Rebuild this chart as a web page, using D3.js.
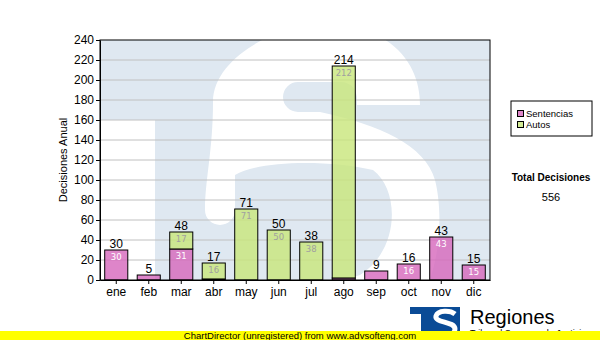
<!DOCTYPE html>
<html>
<head>
<meta charset="utf-8">
<script src="https://cdn.jsdelivr.net/npm/d3@7"></script>
<style>
  body { margin: 0; background: #fff; }
  svg { display: block; font-family: "Liberation Sans", Arial, sans-serif; }
</style>
</head>
<body>
<svg id="chart"></svg>
<script>
// data
const months = ["ene", "feb", "mar", "abr", "may", "jun", "jul", "ago", "sep", "oct", "nov", "dic"];
const sentencias = [30, 5, 31, 1, 0, 0, 0, 2, 9, 16, 43, 15];
const autos = [0, 0, 17, 16, 71, 50, 38, 212, 0, 0, 0, 0];
const seriesNames = ["Sentencias", "Autos"];
const yTicks = [0, 20, 40, 60, 80, 100, 120, 140, 160, 180, 200, 220, 240];

const colors = {Sentencias: "#d666bb", Autos: "#c8e67a"};
const innerText = {Sentencias: "#ffffff", Autos: "#a0a0a0"};

const width = 600, height = 340;
const margin = {top: 40, right: 110, bottom: 60, left: 100};
const plotW = width - margin.left - margin.right;
const plotH = height - margin.top - margin.bottom;

const svg = d3.select("svg#chart")
    .attr("width", width)
    .attr("height", height);

const table = months.map((m, i) => ({month: m, Sentencias: sentencias[i], Autos: autos[i]}));
const stacked = d3.stack().keys(seriesNames)(table);
const totals = table.map(d => d.Sentencias + d.Autos);

const x = d3.scaleBand()
    .domain(months)
    .range([0, plotW])
    .paddingInner(0.29)
    .paddingOuter(0.145);

const y = d3.scaleLinear()
    .domain([0, 240])
    .range([plotH, 0]);

const g = svg.append("g")
    .attr("transform", "translate(" + margin.left + "," + margin.top + ")");

// background logo watermark, clipped to the plot area
svg.append("clipPath").attr("id", "plotClip")
    .append("rect").attr("width", plotW).attr("height", plotH);

const wm = g.append("g").attr("clip-path", "url(#plotClip)");
wm.append("rect")
    .attr("width", plotW).attr("height", plotH)
    .attr("fill", "#dfe8f1");
wm.append("rect")
    .attr("x", 0).attr("y", 80).attr("width", 55).attr("height", plotH)
    .attr("fill", "#fff");
wm.append("path")
    .attr("fill", "#fff")
    .attr("d",
        "M257,65 L320,65 C320,30 300,-10 230,-18" +
        " C200,-22 113,10 113,62 C113,110 105,140 105,170" +
        " A15,15 0 0 0 135,170 L135,135" +
        " C160,120 230,120 273,130" +
        " C300,150 300,210 260,235 L180,260 L180,290 L300,290" +
        " C340,250 345,180 335,140 C325,105 280,85 220,72" +
        " L198,72 A15,15 0 0 1 198,42 L240,42 C252,42 257,50 257,60 Z");

// gridlines
g.append("g")
    .selectAll("line")
    .data(yTicks.filter(t => t > 0 && t < 240))
    .enter().append("line")
    .attr("x1", 0).attr("x2", plotW)
    .attr("y1", d => y(d)).attr("y2", d => y(d))
    .attr("stroke", "#c0c0c0")
    .attr("stroke-width", 1);

// stacked bars
const layers = g.selectAll("g.layer")
    .data(stacked)
    .enter().append("g")
    .attr("class", "layer");

layers.selectAll("rect")
    .data(s => s.map(v => ({key: s.key, v: v})))
    .enter().append("rect")
    .filter(d => d.v[1] - d.v[0] > 0)
    .attr("x", d => x(d.v.data.month))
    .attr("y", d => y(d.v[1]))
    .attr("width", x.bandwidth())
    .attr("height", d => y(d.v[0]) - y(d.v[1]))
    .attr("fill", d => colors[d.key])
    .attr("fill-opacity", 0.8)
    .attr("stroke", "#000")
    .attr("stroke-width", 1);

// value labels inside the segments
layers.selectAll("text")
    .data(s => s.map(v => ({key: s.key, v: v})).filter(d => d.v[1] - d.v[0] >= 10))
    .enter().append("text")
    .attr("x", d => x(d.v.data.month) + x.bandwidth() / 2)
    .attr("y", d => y(d.v[1]) + 10)
    .attr("text-anchor", "middle")
    .attr("font-family", "DejaVu Sans, sans-serif")
    .attr("font-size", "8.5px")
    .attr("fill", d => innerText[d.key])
    .text(d => d.v[1] - d.v[0]);

// totals above the bars
g.append("g")
    .selectAll("text")
    .data(months)
    .enter().append("text")
    .attr("x", (d) => x(d) + x.bandwidth() / 2)
    .attr("y", (d, i) => y(totals[i]) - 2)
    .attr("text-anchor", "middle")
    .attr("font-size", "12px")
    .attr("fill", "#000")
    .text((d, i) => totals[i]);

// plot frame
g.append("rect")
    .attr("width", plotW).attr("height", plotH)
    .attr("fill", "none")
    .attr("stroke", "#000");

// axes
const yAxis = g.append("g")
    .call(d3.axisLeft(y).tickValues(yTicks).tickSize(4).tickSizeOuter(0).tickPadding(2));
const xAxis = g.append("g")
    .attr("transform", "translate(0," + plotH + ")")
    .call(d3.axisBottom(x).tickSize(4).tickSizeOuter(0).tickPadding(3));
[yAxis, xAxis].forEach(a => {
    a.selectAll("text").attr("font-size", "12px").attr("font-family", "Liberation Sans, Arial, sans-serif").attr("fill", "#000");
    a.select(".domain").attr("stroke", "#000");
});

g.append("text")
    .attr("transform", "translate(-33," + (plotH / 2) + ") rotate(-90)")
    .attr("text-anchor", "middle")
    .attr("font-size", "11px")
    .text("Decisiones Anual");

// legend
const legend = svg.append("g").attr("transform", "translate(511,101)");
legend.append("rect")
    .attr("width", 81).attr("height", 35)
    .attr("fill", "#fff").attr("stroke", "#000");
seriesNames.forEach((name, i) => {
    legend.append("rect")
        .attr("x", 6.5).attr("y", 9.5 + i * 11)
        .attr("width", 6).attr("height", 6)
        .attr("fill", colors[name]).attr("fill-opacity", 0.8)
        .attr("stroke", "#000");
    legend.append("text")
        .attr("x", 15).attr("y", 16 + i * 11)
        .attr("font-size", "9.5px")
        .text(name);
});

svg.append("text")
    .attr("x", 551).attr("y", 181)
    .attr("text-anchor", "middle")
    .attr("font-size", "10px").attr("font-weight", "bold")
    .text("Total Decisiones");
svg.append("text")
    .attr("x", 551).attr("y", 201)
    .attr("text-anchor", "middle")
    .attr("font-size", "11px")
    .text(d3.sum(totals));

// footer logo
const logo = svg.append("g");
logo.append("rect").attr("x", 410).attr("y", 307).attr("width", 50).attr("height", 30).attr("fill", "#0a4b96");
logo.append("rect").attr("x", 410).attr("y", 314).attr("width", 11).attr("height", 25).attr("fill", "#fff");
logo.append("path")
    .attr("d", "M455,314 C450,310 438,310 436,316 C434,323 455,321 455,329 C455,337 439,337 433,333")
    .attr("fill", "none").attr("stroke", "#fff").attr("stroke-width", 5);
logo.append("text")
    .attr("x", 470).attr("y", 324)
    .attr("font-size", "20px")
    .text("Regiones");
logo.append("text")
    .attr("x", 470).attr("y", 336)
    .attr("font-size", "9px")
    .text("Tribunal Supremo de Justicia");

// unregistered banner
svg.append("rect")
    .attr("x", 0).attr("y", 331).attr("width", width).attr("height", 9)
    .attr("fill", "#ffff00");
svg.append("text")
    .attr("x", 300).attr("y", 338.5)
    .attr("text-anchor", "middle")
    .attr("font-size", "9.5px")
    .text("ChartDirector (unregistered) from www.advsofteng.com");
</script>
</body>
</html>
